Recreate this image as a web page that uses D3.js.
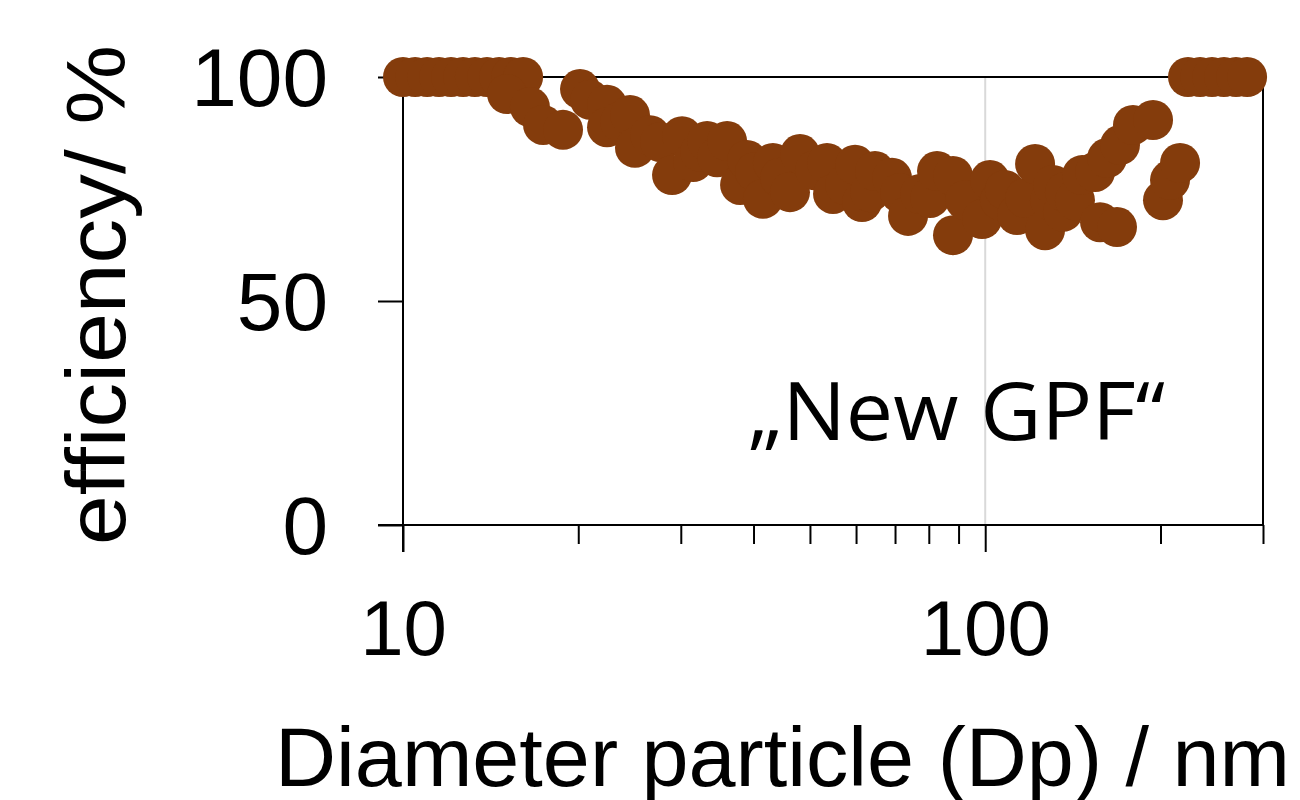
<!DOCTYPE html>
<html>
<head>
<meta charset="utf-8">
<script src="https://cdn.jsdelivr.net/npm/d3@7"></script>
<style>
  html, body { margin: 0; padding: 0; background: #ffffff; }
  svg { display: block; }
</style>
</head>
<body>
<svg id="chart" width="1300" height="800"></svg>
<script>
// ---- data ----
const diameters = [
  10.0, 10.49, 11.0, 11.53, 12.09, 12.68, 13.29, 13.94, 14.62, 15.33, 16.08,
  15.09, 16.52, 17.40, 18.83, 20.14, 20.95, 22.41, 22.41, 23.59, 24.54, 25.03, 26.57, 27.63, 28.98,
  30.15, 31.49, 32.37, 33.29, 34.63, 36.03, 37.93, 38.98, 40.23, 41.52, 43.19, 44.42, 46.20,
  48.07, 51.01, 53.49, 54.78, 57.43, 59.76, 61.43, 63.41, 64.67, 69.17, 71.40, 73.70, 77.27,
  80.40, 82.65, 88.04, 88.04, 92.33, 98.74, 101.9, 106.0, 108.1, 113.4, 117.1, 121.8, 126.7,
  129.2, 130.8, 136.0, 137.1, 142.6, 146.7, 154.4, 157.5, 161.9, 168.4, 170.4, 179.4, 194.2, 202.0,
  207.7, 216.1, 223.0, 233.9, 245.2, 257.1, 269.6, 281.7
];
const efficiency = [
  100, 100, 100, 100, 100, 100, 100, 100, 100, 100, 100,
  96.2, 93.3, 89.3, 88.2, 97.3, 94.9, 93.8, 88.8, 90.0, 91.5, 84.2, 87.0, 85.5, 78.1,
  86.8, 81.0, 83.3, 85.7, 82.1, 85.7, 75.9, 81.5, 78.8, 72.8, 80.8, 77.5, 74.3,
  82.8, 79.2, 80.8, 73.9, 75.9, 80.4, 72.1, 74.3, 79.0, 77.5, 74.1, 69.0, 73.9,
  73.0, 79.0, 64.7, 77.9, 72.5, 68.3, 77.0, 72.5, 74.8, 69.2, 73.0, 80.6, 65.8,
  72.5, 75.9, 69.9, 74.3, 72.5, 78.1, 78.8, 67.6, 81.9, 66.5, 84.8, 89.3, 90.4, 72.5,
  77.0, 80.8, 100, 100, 100, 100, 100, 100
];
const xMajorTicks = [10, 100];
const xMinorTicks = [20, 30, 40, 50, 60, 70, 80, 90, 200, 300];
const yTicks = [0, 50, 100];
const xDomain = [10, 300];
const yDomain = [0, 100];
const labelText = "\u201ENew GPF\u201C";
const xTitle = "Diameter particle (Dp) / nm";
const yTitle = "efficiency/ %";

// ---- layout ----
const pLeft = 403, pRight = 1263, pTop = 77, pBottom = 525;
const svg = d3.select("#chart");
const x = d3.scaleLog().domain(xDomain).range([pLeft, pRight]);
const y = d3.scaleLinear().domain(yDomain).range([pBottom, pTop]);
const dotColor = "#843c0c";
const fontFam = "Liberation Sans, Arial, sans-serif";

// vertical gridline at 100
svg.append("g")
  .selectAll("line").data([100]).join("line")
  .attr("x1", d => x(d)).attr("x2", d => x(d))
  .attr("y1", pTop).attr("y2", pBottom)
  .attr("stroke", "#d9d9d9").attr("stroke-width", 2);

// frame (top and right)
svg.append("line").attr("x1", pLeft).attr("x2", pRight).attr("y1", pTop).attr("y2", pTop)
  .attr("stroke", "#000").attr("stroke-width", 2);
svg.append("line").attr("x1", pRight).attr("x2", pRight).attr("y1", pTop).attr("y2", pBottom)
  .attr("stroke", "#000").attr("stroke-width", 2);

// x axis
const xAxisMajor = d3.axisBottom(x).tickValues(xMajorTicks).tickSize(27).tickFormat(d3.format("d"));
const gxMaj = svg.append("g").attr("transform", `translate(0,${pBottom})`).call(xAxisMajor);
const xAxisMinor = d3.axisBottom(x).tickValues(xMinorTicks).tickSize(19).tickFormat("");
const gxMin = svg.append("g").attr("transform", `translate(0,${pBottom})`).call(xAxisMinor);
[gxMaj, gxMin].forEach(g => {
  g.select(".domain").remove();
  g.selectAll(".tick line").attr("stroke", "#000").attr("stroke-width", 2);
});
gxMaj.selectAll(".tick text")
  .attr("font-family", fontFam).attr("font-size", 78).attr("fill", "#000")
  .attr("dy", 0).attr("y", 130);
// x axis baseline
svg.append("line").attr("x1", 378).attr("x2", pRight).attr("y1", pBottom).attr("y2", pBottom)
  .attr("stroke", "#000").attr("stroke-width", 2);

// y axis
const yAxis = d3.axisLeft(y).tickValues(yTicks).tickSize(25).tickPadding(50);
const gy = svg.append("g").attr("transform", `translate(${pLeft},0)`).call(yAxis);
gy.select(".domain").remove();
gy.selectAll(".tick line").attr("stroke", "#000").attr("stroke-width", 2);
gy.selectAll(".tick text")
  .attr("font-family", fontFam).attr("font-size", 82).attr("fill", "#000")
  .attr("dy", "0.35em");
svg.append("line").attr("x1", pLeft).attr("x2", pLeft).attr("y1", pTop).attr("y2", pBottom + 27)
  .attr("stroke", "#000").attr("stroke-width", 2);

// dots
const pts = diameters.map((d, i) => ({ d, e: efficiency[i] }));
svg.append("g").selectAll("circle").data(pts).join("circle")
  .attr("cx", p => x(p.d)).attr("cy", p => y(p.e)).attr("r", 20)
  .attr("fill", dotColor);

// annotation
svg.append("text").attr("x", 748).attr("y", 440)
  .attr("font-family", "Open Sans, sans-serif").attr("font-size", 80)
  .attr("textLength", 417).attr("lengthAdjust", "spacingAndGlyphs")
  .attr("fill", "#000").text(labelText);

// axis titles
svg.append("text").attr("x", 1290).attr("y", 786).attr("text-anchor", "end")
  .attr("font-family", fontFam).attr("font-size", 84)
  .attr("textLength", 1015).attr("lengthAdjust", "spacingAndGlyphs")
  .attr("fill", "#000").text(xTitle);
svg.append("text").attr("transform", "translate(125,295) rotate(-90)").attr("text-anchor", "middle")
  .attr("font-family", fontFam).attr("font-size", 84)
  .attr("textLength", 500).attr("lengthAdjust", "spacingAndGlyphs")
  .attr("fill", "#000").text(yTitle);
</script>
</body>
</html>
